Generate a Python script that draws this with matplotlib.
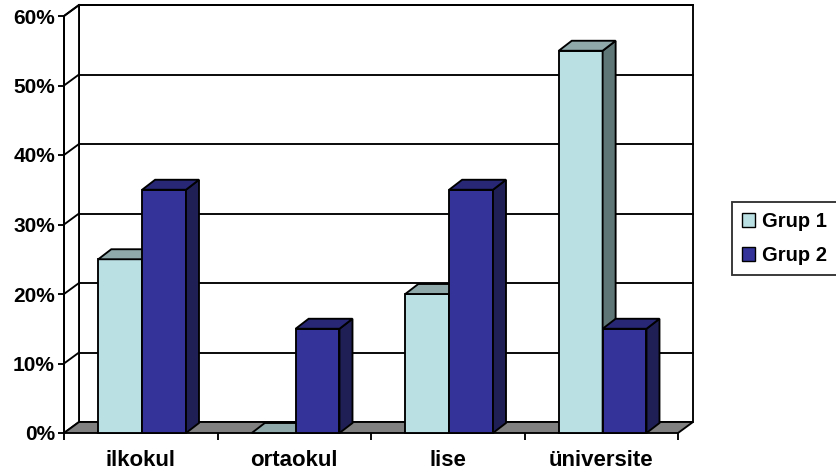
import matplotlib
matplotlib.use("Agg")
import matplotlib.pyplot as plt
from matplotlib.patches import Polygon, Patch

plt.rcParams['font.family'] = ['Liberation Sans', 'DejaVu Sans']
plt.rcParams['font.weight'] = 'bold'

categories = ["ilkokul", "ortaokul", "lise", "üniversite"]
series_names = ["Grup 1", "Grup 2"]
grup1 = [25, 0, 20, 55]
grup2 = [35, 15, 35, 15]
yticks = [0, 10, 20, 30, 40, 50, 60]
ytick_labels = ["0%", "10%", "20%", "30%", "40%", "50%", "60%"]

front_colors = ["#BBE0E3", "#333399"]
top_colors = ["#8FA9AB", "#272775"]
side_colors = ["#5F7677", "#1F1F55"]
floor_color = "#808080"

W, H = 836, 476
fig = plt.figure(figsize=(W / 100, H / 100), dpi=100)
# front plane of the 3-D box, in pixel units of the figure
x_left, x_right = 64, 678
y_zero, y_top = 433, 16
ax = fig.add_axes([x_left / W, 1 - y_zero / H, (x_right - x_left) / W, (y_zero - y_top) / H])
ncat = len(categories)
ymax = 60
ax.set_xlim(0, ncat)
ax.set_ylim(0, ymax)

px_x = ncat / (x_right - x_left)        # data units per pixel, x
px_y = ymax / (y_zero - y_top)          # data units per pixel, y
wall_dx, wall_dy = 15 * px_x, 11 * px_y  # depth of the chart box
bar_dx, bar_dy = 13 * px_x, 10 * px_y    # depth of each bar
lw = 1.35
ec = "black"

def poly(pts, fc, z):
    p = Polygon(pts, closed=True, facecolor=fc, edgecolor=ec, linewidth=lw,
                joinstyle="miter", clip_on=False, zorder=z)
    ax.add_patch(p)

# back wall
poly([(wall_dx, wall_dy), (ncat + wall_dx, wall_dy), (ncat + wall_dx, ymax + wall_dy),
      (wall_dx, ymax + wall_dy)], "white", 1)
# left side wall
poly([(0, 0), (wall_dx, wall_dy), (wall_dx, ymax + wall_dy), (0, ymax)], "white", 1)
# gridlines on the back wall and the side wall
for v in yticks[1:]:
    ax.plot([wall_dx, ncat + wall_dx], [v + wall_dy, v + wall_dy], color=ec, lw=lw,
            clip_on=False, zorder=2)
    ax.plot([0, wall_dx], [v, v + wall_dy], color=ec, lw=lw, clip_on=False, zorder=2)
# floor
poly([(0, 0), (ncat, 0), (ncat + wall_dx, wall_dy), (wall_dx, wall_dy)], floor_color, 3)

# bars
bw = 1 / 3.5
shift = 0.009
z = 4
for i in range(ncat):
    for j, vals in enumerate([grup1, grup2]):
        v = vals[i]
        x0 = i + 0.75 * bw + j * bw + shift
        x1 = x0 + bw
        if v > 0:
            poly([(x0, 0), (x1, 0), (x1, v), (x0, v)], front_colors[j], z)
            poly([(x1, 0), (x1 + bar_dx, bar_dy), (x1 + bar_dx, v + bar_dy), (x1, v)],
                 side_colors[j], z)
        poly([(x0, v), (x1, v), (x1 + bar_dx, v + bar_dy), (x0 + bar_dx, v + bar_dy)],
             top_colors[j], z)
        z += 1

# axes styling
for s in ["top", "right", "bottom"]:
    ax.spines[s].set_visible(False)
ax.spines["left"].set_linewidth(lw)
ax.spines["left"].set_zorder(20)
ax.set_yticks(yticks)
ax.set_yticklabels(ytick_labels, fontsize=15, fontweight="bold")
ax.tick_params(axis="y", direction="out", length=4.5, width=lw, pad=2)
ax.set_xticks(range(ncat + 1))
ax.set_xticklabels([])
ax.set_xticks([i + 0.5 for i in range(ncat)], minor=True)
ax.set_xticklabels(categories, minor=True, fontsize=16, fontweight="bold")
ax.tick_params(axis="x", which="major", direction="out", length=5, width=lw)
ax.tick_params(axis="x", which="minor", length=0, pad=12)
ax.patch.set_visible(False)

handles = [Patch(facecolor=front_colors[k], edgecolor="black", linewidth=1.0)
           for k in range(2)]
leg = fig.legend(handles, series_names, loc="upper left",
                 bbox_to_anchor=(732 / W, 1 - 202 / H), frameon=True, fancybox=False,
                 edgecolor="black", prop={"size": 14.5, "weight": "bold"},
                 handlelength=0.65, handleheight=0.65, handletextpad=0.35,
                 labelspacing=0.75, borderpad=0.5, borderaxespad=0)
leg.get_frame().set_linewidth(lw)

fig.savefig("out.png", dpi=100)
